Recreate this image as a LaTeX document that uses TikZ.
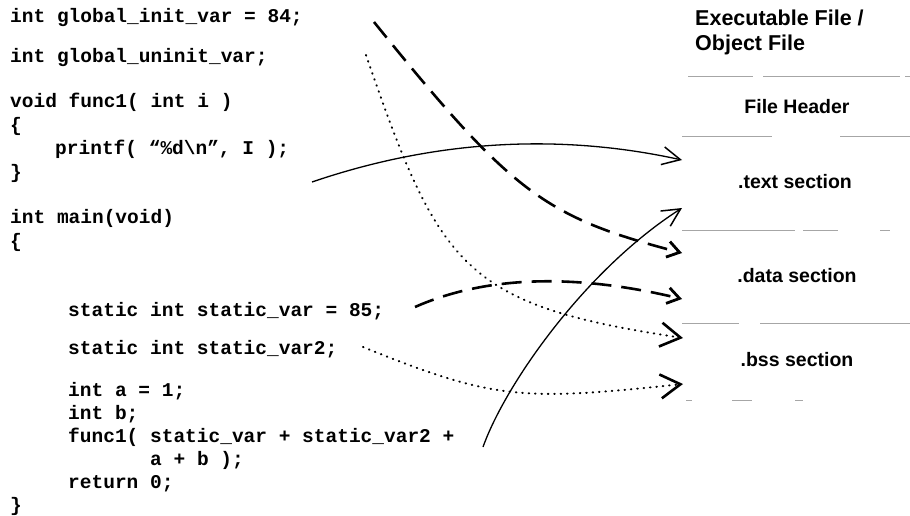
\documentclass[tikz,border=0pt]{standalone}
\usepackage{fontspec}
\setmonofont{Liberation Mono}
\setsansfont{Liberation Sans}
\usetikzlibrary{arrows.meta}
\begin{document}
\begin{tikzpicture}[x=1pt,y=-1pt,
  code/.style={anchor=base west, inner sep=0pt, font=\fontsize{19.5}{20}\selectfont\ttfamily\bfseries},
  ttl/.style={anchor=base west, inner sep=0pt, font=\fontsize{21.5}{22}\selectfont\sffamily\bfseries},
  sec/.style={anchor=base, inner sep=0pt, font=\fontsize{19.5}{20}\selectfont\sffamily\bfseries},
  rule/.style={draw=black!35, line width=0.8pt},
  solidarr/.style={line width=1.3pt, -{Straight Barb[length=18pt,width=18pt,line width=1.5pt]}},
  dasharr/.style={line width=2.6pt, dash pattern=on 20pt off 10pt, -{Straight Barb[length=12pt,width=16pt,line width=2.8pt]}},
  dotarr/.style={line width=2pt, dash pattern=on 0.6pt off 5.8pt, line cap=round, -{Straight Barb[length=20pt,width=24pt,line width=2.6pt]}},
]
\useasboundingbox (0,0) rectangle (910,515);

% code
\node[code] (l1)  at (10,22)  {int global\_init\_var = 84;};
\node[code] (l2)  at (10,62)  {int global\_uninit\_var;};
\node[code] (l3)  at (10,107) {void func1( int i )};
\node[code] (l4)  at (10,131) {\{};
\node[code] (l5)  at (55,154) {printf( “\%d\textbackslash n”, I );};
\node[code] (l6)  at (10,178) {\}};
\node[code] (l7)  at (10,223) {int main(void)};
\node[code] (l8)  at (10,247) {\{};
\node[code] (l9)  at (68,316) {static int static\_var = 85;};
\node[code] (l10) at (68,354) {static int static\_var2;};
\node[code] (l11) at (68,396) {int a = 1;};
\node[code] (l12) at (68,419) {int b;};
\node[code] (l13) at (68,442) {func1( static\_var + static\_var2 +};
\node[code] (l14) at (150,465) {a + b );};
\node[code] (l15) at (68,488) {return 0;};
\node[code] (l16) at (10,511) {\}};

% object file
\node[ttl] (t1) at (695,25) {Executable File /};
\node[ttl] (t2) at (695,50) {Object File};
\node[sec] (hdr)  at (797,113) {File Header};
\node[sec] (text) at (795,188) {.text section};
\node[sec] (data) at (797,282) {.data section};
\node[sec] (bss)  at (797,366) {.bss section};

% faint rules
\draw[rule] (688,76) -- (753,76) (763,76) -- (900,76) (905,76) -- (910,76);
\draw[rule] (682,136) -- (772,136) (840,136) -- (910,136);
\draw[rule] (682,230) -- (795,230) (803,230) -- (838,230) (880,230) -- (890,230);
\draw[rule] (682,323) -- (739,323) (760,323) -- (910,323);
\draw[rule] (686,400) -- (692,400) (732,400) -- (752,400) (795,400) -- (803,400);

% connector end points
\coordinate (sF)  at (312,182);
\coordinate (eF)  at (682,160);
\coordinate (sC)  at (483,447);
\coordinate (eC)  at (682,208);
\coordinate (sG1) at (374,22);
\coordinate (eG1) at (682,253);
\coordinate (sS1) at (415,307);
\coordinate (eS1) at (682,299);
\coordinate (sG2) at (366,55);
\coordinate (eG2) at (683,338);
\coordinate (sS2) at (363,347);
\coordinate (eS2) at (683,384);

% connectors
\draw[solidarr] (sF) .. controls (435,140) and (559,133) .. (eF);
\draw[solidarr] (sC) .. controls (505,385) and (585,270) .. (eC);
\draw[dasharr] (sG1) .. controls (512,193) and (544,217) .. (eG1);
\draw[dasharr] (sS1) .. controls (485,276) and (574,273) .. (eS1);
\draw[dotarr] (sG2) .. controls (440,270) and (465,305) .. (eG2);
\draw[dotarr] (sS2) .. controls (494,400) and (522,401) .. (eS2);
\end{tikzpicture}
\end{document}
